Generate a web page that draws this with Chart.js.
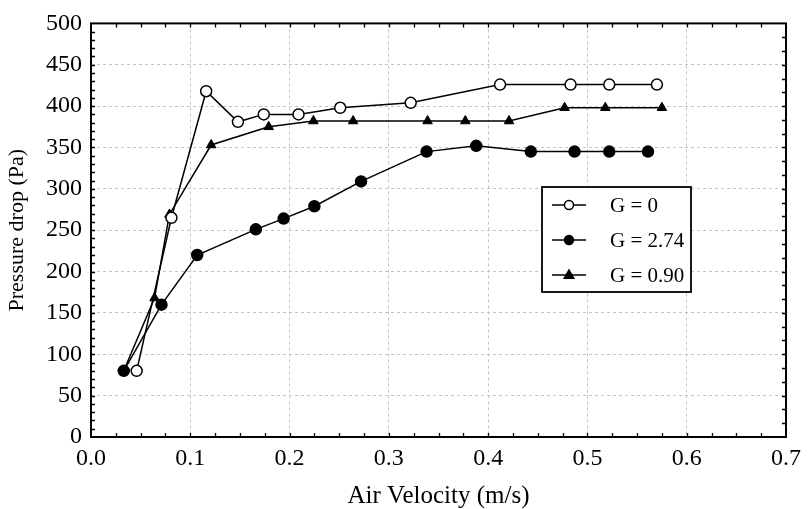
<!DOCTYPE html>
<html>
<head>
<meta charset="utf-8">
<script src="https://cdn.jsdelivr.net/npm/chart.js@4/dist/chart.umd.min.js"></script>
<style>
  body { margin: 0; background: #fff; }
  #wrap { width: 808px; height: 509px; }
</style>
</head>
<body>
<div id="wrap"><canvas id="pressureChart" width="808" height="509"></canvas></div>
<script>
// air velocity (m/s) and pressure drop (Pa)
const labels = ["G = 0", "G = 2.74", "G = 0.90"]

const velocityG0 = [0.046, 0.081, 0.116, 0.148, 0.174, 0.209, 0.251, 0.322, 0.412, 0.483, 0.522, 0.570]
const pressureG0 = [80, 265, 418, 381, 390, 390, 398, 404, 426, 426, 426, 426]

const velocityG274 = [0.033, 0.071, 0.107, 0.166, 0.194, 0.225, 0.272, 0.338, 0.388, 0.443, 0.487, 0.522, 0.561]
const pressureG274 = [80, 160, 220, 251, 264, 279, 309, 345, 352, 345, 345, 345, 345]

const velocityG090 = [0.033, 0.064, 0.079, 0.121, 0.179, 0.224, 0.264, 0.339, 0.377, 0.421, 0.477, 0.518, 0.575]
const pressureG090 = [80, 168, 269, 353, 375, 382, 382, 382, 382, 382, 398, 398, 398]

const xTicks = [0, 0.1, 0.2, 0.3, 0.4, 0.5, 0.6, 0.7]
const yTicks = [0, 50, 100, 150, 200, 250, 300, 350, 400, 450, 500]

const FONT = "'Liberation Serif', 'Times New Roman', serif"

function toPoints(xs, ys) {
  return xs.map((v, i) => ({ x: v, y: ys[i] }))
}

// box round the plot with inward ticks, and the legend inside the plot
const framePlugin = {
  id: "frame",
  afterDatasetsDraw(chart) {
    const { ctx, chartArea: a, scales } = chart
    const x = scales.x
    const y = scales.y
    ctx.save()
    ctx.strokeStyle = "#000"
    ctx.lineWidth = 1.3
    ctx.beginPath()
    for (let i = 1; i < 28; i++) {
      const px = Math.round(x.getPixelForValue(i * 0.025)) + 0.5
      ctx.moveTo(px, a.bottom)
      ctx.lineTo(px, a.bottom - 4)
      ctx.moveTo(px, a.top)
      ctx.lineTo(px, a.top + 4)
    }
    for (let i = 1; i < 50; i++) {
      const py = Math.round(y.getPixelForValue(i * 10)) + 0.5
      ctx.moveTo(a.left, py)
      ctx.lineTo(a.left + 4, py)
    }
    for (let i = 1; i < 30; i++) {
      const py = Math.round(y.getPixelForValue(i * 50 / 3)) + 0.5
      ctx.moveTo(a.right, py)
      ctx.lineTo(a.right - 4, py)
    }
    ctx.stroke()
    ctx.lineWidth = 2
    ctx.strokeRect(a.left, a.top, a.right - a.left, a.bottom - a.top)

    // legend
    const bx = 542, by = 187, bw = 149, bh = 105
    ctx.fillStyle = "#fff"
    ctx.fillRect(bx, by, bw, bh)
    ctx.lineWidth = 1.8
    ctx.strokeRect(bx, by, bw, bh)
    ctx.font = "21px " + FONT
    ctx.textBaseline = "middle"
    chart.data.datasets.forEach((ds, i) => {
      const ly = 205 + i * 35
      ctx.strokeStyle = "#000"
      ctx.lineWidth = 1.5
      ctx.beginPath()
      ctx.moveTo(552, ly)
      ctx.lineTo(586, ly)
      ctx.stroke()
      ctx.fillStyle = ds.pointBackgroundColor
      ctx.beginPath()
      if (ds.pointStyle === "triangle") {
        const r = 5
        ctx.moveTo(569, ly - r)
        ctx.lineTo(569 + r * 0.95, ly + r * 0.65)
        ctx.lineTo(569 - r * 0.95, ly + r * 0.65)
        ctx.closePath()
      } else {
        ctx.arc(569, ly, 4.5, 0, Math.PI * 2)
      }
      ctx.fill()
      ctx.stroke()
      ctx.fillStyle = "#000"
      ctx.fillText(ds.label, 610, ly + 1)
    })
    ctx.restore()
  },
}

document.addEventListener("DOMContentLoaded", function () {
  const ctx = document.getElementById("pressureChart").getContext("2d")

  new Chart(ctx, {
    type: "line",
    data: {
      datasets: [
        {
          label: labels[0],
          data: toPoints(velocityG0, pressureG0),
          borderColor: "#000",
          borderWidth: 1.5,
          pointStyle: "circle",
          pointRadius: 5.5,
          pointBorderWidth: 1.5,
          pointBackgroundColor: "#fff",
          pointBorderColor: "#000",
          tension: 0,
          fill: false,
        },
        {
          label: labels[1],
          data: toPoints(velocityG274, pressureG274),
          borderColor: "#000",
          borderWidth: 1.5,
          pointStyle: "circle",
          pointRadius: 5.5,
          pointBorderWidth: 1.5,
          pointBackgroundColor: "#000",
          pointBorderColor: "#000",
          tension: 0,
          fill: false,
        },
        {
          label: labels[2],
          data: toPoints(velocityG090, pressureG090),
          borderColor: "#000",
          borderWidth: 1.5,
          pointStyle: "triangle",
          pointRadius: 5.5,
          pointBorderWidth: 1,
          pointBackgroundColor: "#000",
          pointBorderColor: "#000",
          tension: 0,
          fill: false,
        },
      ],
    },
    options: {
      responsive: false,
      animation: false,
      layout: { padding: { top: 23, right: 16, left: 0, bottom: 0 } },
      plugins: {
        legend: { display: false },
        tooltip: { enabled: false },
      },
      scales: {
        x: {
          type: "linear",
          min: xTicks[0],
          max: xTicks[xTicks.length - 1],
          afterBuildTicks(scale) {
            scale.ticks = xTicks.map((v) => ({ value: v }))
          },
          afterFit(scale) {
            scale.height = 72
          },
          grid: { color: "#c4c4c4", lineWidth: 1, drawTicks: false },
          border: { display: false, dash: [3, 3] },
          ticks: {
            color: "#000",
            padding: 7,
            font: { family: FONT, size: 24 },
            callback: (v) => v.toFixed(1),
          },
          title: {
            display: true,
            text: "Air Velocity (m/s)",
            color: "#000",
            font: { family: FONT, size: 25, lineHeight: 1 },
            padding: { top: 0, bottom: 0 },
          },
        },
        y: {
          min: yTicks[0],
          max: yTicks[yTicks.length - 1],
          afterBuildTicks(scale) {
            scale.ticks = yTicks.map((v) => ({ value: v }))
          },
          afterFit(scale) {
            scale.width = 91
          },
          grid: { color: "#c4c4c4", lineWidth: 1, drawTicks: false },
          border: { display: false, dash: [3, 3] },
          ticks: {
            color: "#000",
            padding: 9,
            font: { family: FONT, size: 24 },
          },
          title: {
            display: true,
            text: "Pressure drop (Pa)",
            color: "#000",
            font: { family: FONT, size: 22, lineHeight: 1 },
            padding: { top: 6, bottom: 0 },
          },
        },
      },
    },
    plugins: [framePlugin],
  })
})
</script>
</body>
</html>
